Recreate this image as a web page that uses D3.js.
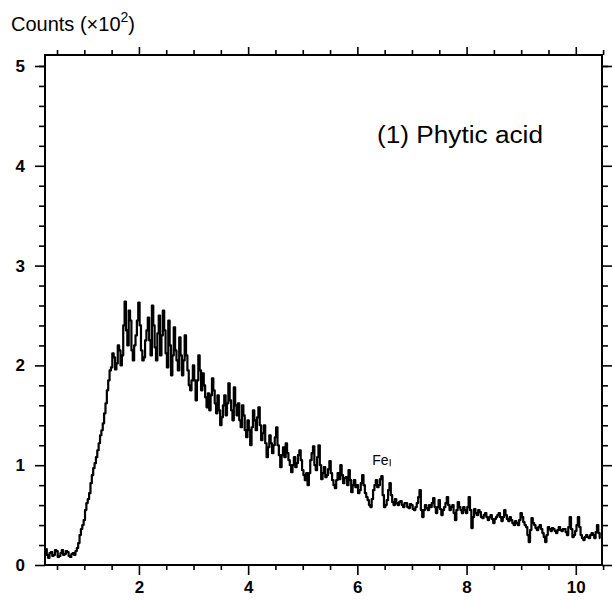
<!DOCTYPE html>
<html>
<head>
<meta charset="utf-8">
<script src="https://cdn.jsdelivr.net/npm/d3@7"></script>
<style>
  html, body { margin: 0; padding: 0; background: #fff; }
  svg { display: block; }
  text { font-family: "Liberation Sans", Arial, Helvetica, sans-serif; fill: #000; }
</style>
</head>
<body>
<svg id="chart" width="612" height="603"></svg>
<script>
// ---- data ----
const energyStart = 0.30;   // keV, first channel
const energyStep = 0.025;   // keV per channel
// counts (x10^2), 8 channels per row, row start energies 0.30, 0.50, 0.70, ...
const counts = [
  0.16,0.10,0.07,0.12,0.13,0.09,0.10,0.15,
  0.14,0.08,0.09,0.12,0.15,0.10,0.11,0.14,
  0.13,0.09,0.08,0.11,0.12,0.10,0.14,0.17,
  0.22,0.30,0.36,0.40,0.45,0.55,0.62,0.66,
  0.72,0.82,0.90,0.97,1.02,1.08,1.15,1.22,
  1.30,1.35,1.42,1.52,1.62,1.75,1.85,1.95,
  1.98,2.12,2.08,1.96,2.02,2.20,2.15,2.00,
  2.10,2.40,2.64,2.35,2.20,2.55,2.45,2.15,
  2.05,2.20,2.30,2.45,2.63,2.40,2.15,2.05,
  2.08,2.25,2.35,2.48,2.25,2.10,2.60,2.40,
  2.18,2.05,2.32,2.50,2.10,2.30,2.55,2.35,
  2.12,1.98,2.45,2.20,1.90,2.10,2.38,2.15,
  2.05,1.95,2.28,2.10,1.90,2.05,2.30,2.10,
  1.95,1.80,1.75,1.85,2.00,1.85,1.65,1.85,
  2.10,1.95,1.75,1.92,1.80,1.68,1.58,1.72,
  1.55,1.70,1.87,1.75,1.62,1.52,1.70,1.55,
  1.40,1.48,1.60,1.70,1.50,1.62,1.82,1.65,
  1.55,1.45,1.78,1.60,1.50,1.62,1.45,1.38,
  1.60,1.50,1.35,1.28,1.45,1.35,1.20,1.38,
  1.55,1.45,1.35,1.48,1.58,1.40,1.25,1.32,
  1.40,1.22,1.08,1.18,1.30,1.22,1.12,1.20,
  1.28,1.38,1.20,1.10,0.98,1.10,1.18,1.08,
  1.22,1.12,1.05,1.00,0.93,1.00,1.08,0.98,
  1.02,1.10,1.15,1.05,0.95,0.90,0.85,0.92,
  0.80,0.92,1.05,1.12,1.19,1.00,0.95,1.08,
  1.20,1.00,0.86,0.92,0.98,0.88,0.90,0.96,
  1.04,0.92,0.85,0.80,0.77,0.85,0.92,0.86,
  1.00,0.90,0.82,0.87,0.88,0.80,0.95,0.85,
  0.73,0.80,0.85,0.78,0.80,0.72,0.75,0.82,
  0.90,0.80,0.72,0.68,0.65,0.60,0.58,0.66,
  0.75,0.80,0.85,0.78,0.80,0.86,0.89,0.70,
  0.58,0.60,0.65,0.75,0.82,0.70,0.63,0.60,
  0.66,0.62,0.60,0.63,0.64,0.60,0.58,0.62,
  0.62,0.58,0.57,0.61,0.60,0.56,0.55,0.58,
  0.62,0.68,0.75,0.55,0.48,0.55,0.60,0.57,
  0.55,0.60,0.58,0.62,0.67,0.58,0.52,0.58,
  0.65,0.56,0.50,0.55,0.58,0.62,0.68,0.60,
  0.55,0.58,0.60,0.52,0.45,0.55,0.63,0.58,
  0.55,0.52,0.58,0.55,0.52,0.58,0.68,0.55,
  0.37,0.48,0.56,0.52,0.50,0.55,0.53,0.48,
  0.47,0.50,0.52,0.48,0.45,0.48,0.50,0.46,
  0.42,0.46,0.48,0.50,0.52,0.48,0.44,0.48,
  0.55,0.50,0.46,0.44,0.48,0.45,0.42,0.40,
  0.44,0.42,0.40,0.45,0.52,0.48,0.43,0.40,
  0.38,0.30,0.23,0.35,0.47,0.42,0.40,0.37,
  0.35,0.38,0.40,0.36,0.32,0.28,0.23,0.30,
  0.38,0.36,0.34,0.37,0.36,0.34,0.32,0.35,
  0.38,0.35,0.34,0.36,0.36,0.33,0.30,0.38,
  0.48,0.36,0.28,0.30,0.34,0.40,0.48,0.38,
  0.30,0.27,0.25,0.28,0.30,0.28,0.27,0.30,
  0.32,0.30,0.27,0.33,0.40,0.32,0.27
];
const xMajorTicks = [2, 4, 6, 8, 10];
const xMinorTicks = [0.5, 1, 1.5, 2.5, 3, 3.5, 4.5, 5, 5.5, 6.5, 7, 7.5, 8.5, 9, 9.5, 10.5];
const yMajorTicks = [0, 1, 2, 3, 4, 5];
const yMinorTicks = [0.2, 0.4, 0.6, 0.8, 1.2, 1.4, 1.6, 1.8, 2.2, 2.4, 2.6, 2.8,
                     3.2, 3.4, 3.6, 3.8, 4.2, 4.4, 4.6, 4.8, 5.0];
const xDomain = [0.28, 10.48];
const yDomain = [0, 5.11];
const yTitle = "Counts (×10";
const yTitleSup = "2";
const sampleLabel = "(1) Phytic acid";
const peakLabel = { text: "Fe", energy: 6.40, value: 1.0 };

// ---- layout ----
const W = 612, H = 603;
const margin = { left: 45, right: 10, top: 55, bottom: 38 };
const svg = d3.select("#chart");

const x = d3.scaleLinear().domain(xDomain).range([margin.left, W - margin.right]);
const y = d3.scaleLinear().domain(yDomain).range([H - margin.bottom, margin.top]);

const points = counts.map((c, i) => ({ e: energyStart + i * energyStep, c }));

// frame
svg.append("rect")
  .attr("x", x(xDomain[0])).attr("y", y(yDomain[1]))
  .attr("width", x(xDomain[1]) - x(xDomain[0]))
  .attr("height", y(yDomain[0]) - y(yDomain[1]))
  .attr("fill", "none").attr("stroke", "#000").attr("stroke-width", 2);

function styleAxis(g) {
  g.select(".domain").remove();
  g.selectAll(".tick line").attr("stroke", "#000").attr("stroke-width", 1.6);
}
function styleLabels(g) {
  g.selectAll("text").attr("font-size", 17).attr("font-weight", "bold")
    .attr("font-family", "Liberation Sans, Arial, sans-serif").attr("fill", "#000");
}

// bottom axis
svg.append("g").attr("transform", `translate(0,${y(0)})`)
  .call(d3.axisBottom(x).tickValues(xMinorTicks).tickSize(5).tickFormat(""))
  .call(styleAxis);
svg.append("g").attr("transform", `translate(0,${y(0)})`)
  .call(d3.axisBottom(x).tickValues(xMajorTicks).tickSize(10).tickPadding(6).tickFormat(d3.format("d")))
  .call(styleAxis).call(styleLabels);

// top axis
svg.append("g").attr("transform", `translate(0,${y(yDomain[1])})`)
  .call(d3.axisTop(x).tickValues(xMinorTicks).tickSize(5).tickFormat(""))
  .call(styleAxis);
svg.append("g").attr("transform", `translate(0,${y(yDomain[1])})`)
  .call(d3.axisTop(x).tickValues(xMajorTicks).tickSize(8).tickFormat(""))
  .call(styleAxis);

// left axis
svg.append("g").attr("transform", `translate(${x(xDomain[0])},0)`)
  .call(d3.axisLeft(y).tickValues(yMinorTicks).tickSize(6).tickFormat(""))
  .call(styleAxis);
svg.append("g").attr("transform", `translate(${x(xDomain[0])},0)`)
  .call(d3.axisLeft(y).tickValues(yMajorTicks).tickSize(10).tickPadding(10).tickFormat(d3.format("d")))
  .call(styleAxis).call(styleLabels);

// right axis
svg.append("g").attr("transform", `translate(${x(xDomain[1])},0)`)
  .call(d3.axisRight(y).tickValues(yMinorTicks).tickSize(6).tickFormat(""))
  .call(styleAxis);
svg.append("g").attr("transform", `translate(${x(xDomain[1])},0)`)
  .call(d3.axisRight(y).tickValues(yMajorTicks).tickSize(10).tickFormat(""))
  .call(styleAxis);

// spectrum
const line = d3.line()
  .x(d => x(d.e))
  .y(d => y(d.c))
  .curve(d3.curveStep);

svg.append("path")
  .datum(points)
  .attr("d", line)
  .attr("fill", "none")
  .attr("stroke", "#000")
  .attr("stroke-width", 2.2)
  .attr("stroke-linejoin", "round");

// y title
const t = svg.append("text").attr("x", 11).attr("y", 31).attr("font-size", 20);
t.append("tspan").text(yTitle);
t.append("tspan").attr("dy", -9).attr("font-size", 14).text(yTitleSup);
t.append("tspan").attr("dy", 9).text(")");

// sample label
svg.append("text")
  .attr("x", 377).attr("y", 143)
  .attr("font-size", 23)
  .attr("textLength", 166).attr("lengthAdjust", "spacingAndGlyphs")
  .text(sampleLabel);

// Fe label
svg.append("text")
  .attr("x", x(peakLabel.energy) - 7)
  .attr("y", y(peakLabel.value))
  .attr("font-size", 14)
  .text(peakLabel.text);
svg.append("line")
  .attr("x1", x(peakLabel.energy) + 11).attr("x2", x(peakLabel.energy) + 11)
  .attr("y1", y(peakLabel.value) - 6).attr("y2", y(peakLabel.value) + 1)
  .attr("stroke", "#000").attr("stroke-width", 1);
</script>
</body>
</html>
